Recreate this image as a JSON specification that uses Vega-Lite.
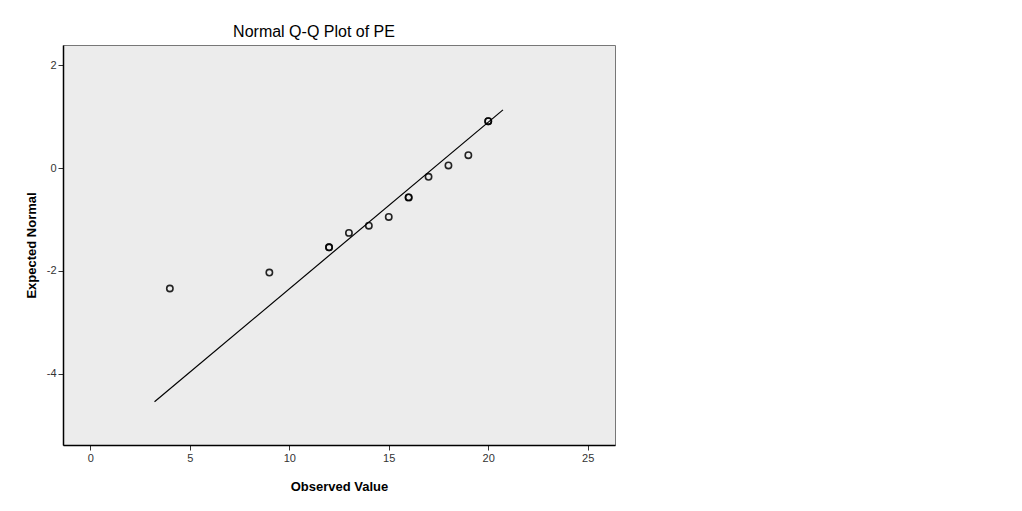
{
  "$schema": "https://vega.github.io/schema/vega-lite/v6.json",
  "autosize": "none",
  "width": 552,
  "height": 400,
  "padding": {"left": 63, "top": 45, "right": 407, "bottom": 66},
  "background": "white",
  "title": {
    "text": "Normal Q-Q Plot of PE",
    "font": "Liberation Sans",
    "fontSize": 16,
    "fontWeight": "normal",
    "color": "black",
    "anchor": "middle",
    "dx": -25,
    "offset": 5
  },
  "config": {
    "view": {"stroke": "#777", "strokeWidth": 1, "fill": "#ECECEC"},
    "axis": {
      "labelFont": "Liberation Sans",
      "labelFontSize": 11,
      "labelColor": "#333",
      "titleFont": "Liberation Sans",
      "titleFontSize": 13,
      "titleFontWeight": "bold",
      "titleColor": "black",
      "domainColor": "black",
      "domainWidth": 1.5,
      "tickColor": "#333",
      "tickSize": 5,
      "grid": false,
      "labelExpr": "toString(datum.value)"
    }
  },
  "layer": [
    {
      "data": {"values": [
        {"observed": 3.23, "expected": -4.54},
        {"observed": 20.74, "expected": 1.13}
      ]},
      "mark": {"type": "line", "color": "black", "strokeWidth": 1.2},
      "encoding": {
        "x": {"field": "observed", "type": "quantitative", "scale": {"domain": [-1.37, 26.37], "nice": false, "zero": false},
              "axis": {"title": "Observed Value", "values": [0, 5, 10, 15, 20, 25], "titlePadding": 17, "labelPadding": 2}},
        "y": {"field": "expected", "type": "quantitative", "scale": {"domain": [-5.38, 2.39], "nice": false, "zero": false},
              "axis": {"title": "Expected Normal", "values": [-4, -2, 0, 2], "titlePadding": 8, "labelPadding": 2}}
      }
    },
    {
      "data": {"values": [
        {"observed": 4, "expected": -2.34},
        {"observed": 9, "expected": -2.03},
        {"observed": 12, "expected": -1.54},
        {"observed": 12, "expected": -1.54},
        {"observed": 13, "expected": -1.26},
        {"observed": 14, "expected": -1.12},
        {"observed": 15, "expected": -0.95},
        {"observed": 16, "expected": -0.57},
        {"observed": 16, "expected": -0.57},
        {"observed": 17, "expected": -0.17},
        {"observed": 18, "expected": 0.05},
        {"observed": 19, "expected": 0.25},
        {"observed": 20, "expected": 0.91},
        {"observed": 20, "expected": 0.91}
      ]},
      "mark": {"type": "point", "shape": "circle", "filled": false, "stroke": "black", "strokeWidth": 1.6, "size": 40, "opacity": 0.85},
      "encoding": {
        "x": {"field": "observed", "type": "quantitative"},
        "y": {"field": "expected", "type": "quantitative"}
      }
    }
  ]
}
